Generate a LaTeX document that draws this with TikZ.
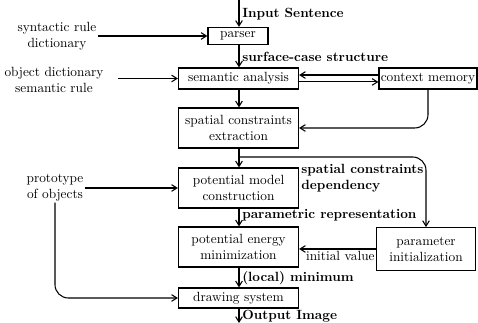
\documentclass[tikz,border=0pt]{standalone}
\usetikzlibrary{arrows.meta}

\tikzset{
  proc/.style={draw, line width=0.9pt, minimum width=90pt, inner sep=1pt, align=center, font=\normalsize},
  lbl/.style={anchor=west, inner sep=0.75pt, font=\normalsize\bfseries},
  src/.style={inner sep=0.75pt, align=center, font=\normalsize},
  flow/.style={-{Straight Barb[length=4pt,width=5pt]}, line width=0.8pt},
}

\begin{document}
\begin{tikzpicture}[x=0.75pt,y=0.75pt,yscale=-1,xscale=1]
%set diagram left start at 0, and has height of 323
\useasboundingbox (0,0) rectangle (478,323);

%Shapes: main column
\node [proc, minimum width=45pt, minimum height=12.75pt] (parser) at (238,36) {parser};
\node [proc, minimum height=15.75pt] (sem) at (238.5,78.5) {semantic analysis};
\node [proc, minimum width=73.5pt, minimum height=15.75pt] (ctx) at (428,78.5) {context memory};
\node [proc, minimum height=30pt] (spat) at (238.5,128) {spatial constraints\\extraction};
\node [proc, minimum height=30pt] (pmc) at (238.5,188) {potential model\\construction};
\node [proc, minimum height=30pt] (pem) at (238.5,247) {potential energy\\minimization};
\node [proc, minimum width=74.25pt, minimum height=32pt] (par) at (426,249) {parameter\\initialization};
\node [proc, minimum height=15pt] (drw) at (238.5,298) {drawing system};

%Sources on the left
\node [src] (syn) at (57,36) {syntactic rule\\dictionary};
\node [src] (obj) at (54,80) {object dictionary\\semantic rule};
\node [src] (proto) at (55,188) {prototype\\of objects};

\coordinate (in) at (239,0);
\coordinate (out) at (239,323);
\coordinate (br) at (239,157);

%Connectors
\draw [flow] (in) -- (parser.north -| in);
\draw [flow] (parser.south -| in) -- (sem.north -| in);
\draw [flow] ([yshift=2.6pt]sem.east) -- ([yshift=2.6pt]ctx.west);
\draw [flow] ([yshift=-2.6pt]ctx.west) -- ([yshift=-2.6pt]sem.east);
\draw [flow] (sem.south -| in) -- (spat.north -| in);
\draw [flow, rounded corners=10] (ctx.south) |- (spat.east);
\draw [flow] (spat.south -| in) -- (pmc.north -| in);
\draw [flow, rounded corners=10] (br) -| (par.north);
\draw [flow] (pmc.south -| in) -- (pem.north -| in);
\draw [flow] (par.west) -- (par.west -| pem.east);
\draw [flow] (pem.south -| in) -- (drw.north -| in);
\draw [flow] (drw.south -| in) -- (out);
\draw [flow] (syn.east |- parser.west) -- (parser.west);
\draw [flow] ([xshift=10pt]obj.east |- sem.west) -- (sem.west);
\draw [flow] (proto.east |- pmc.west) -- (pmc.west);
\draw [flow, rounded corners=10] (proto.south) |- (drw.west);

% Text Node
\node [lbl] (lin) at (241,14) {Input Sentence};
% Text Node
\node [lbl] (lsurf) at (241,57) {surface-case structure};
% Text Node
\node [lbl, anchor=north west, align=left] (ldep) at (300,163) {spatial constraints\\dependency};
% Text Node
\node [lbl] (lparam) at (241,215) {parametric representation};
% Text Node
\node [src, anchor=north east] (linit) at ([yshift=1pt]par.west) {initial value};
% Text Node
\node [lbl] (lmin) at (241,278) {(local) minimum};
% Text Node
\node [lbl] (lout) at (241,316) {Output Image};

\end{tikzpicture}
\end{document}
